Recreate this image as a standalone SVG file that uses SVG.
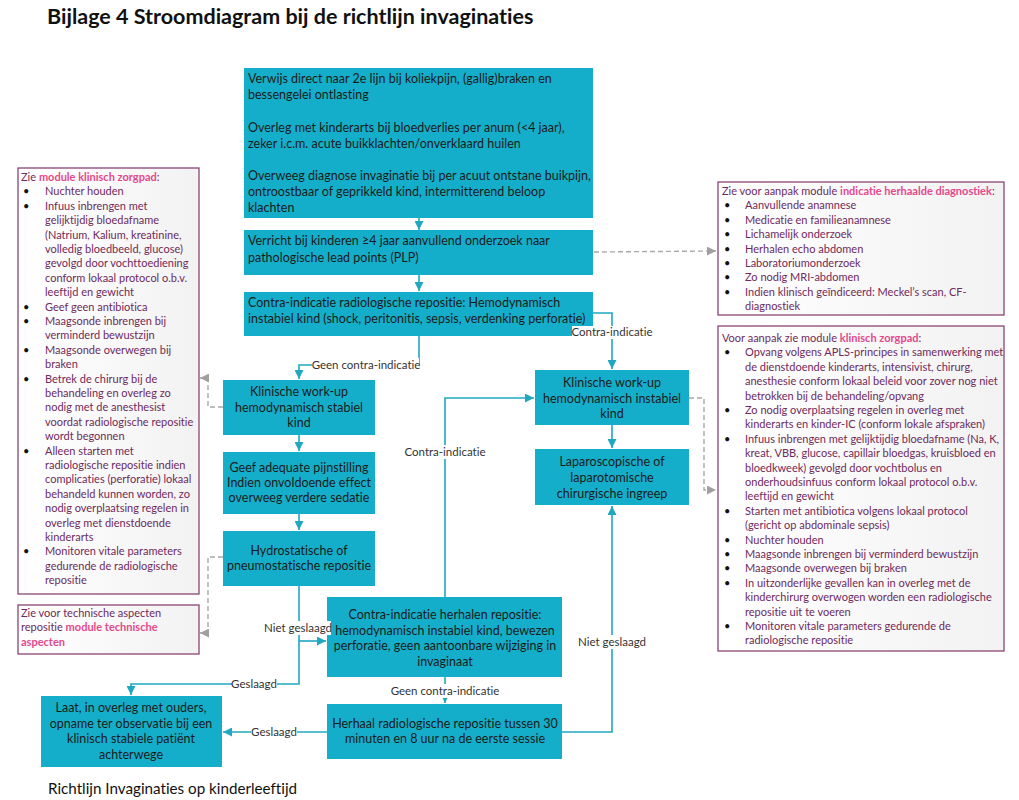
<svg xmlns="http://www.w3.org/2000/svg" width="1019" height="800" viewBox="0 0 1019 800">
<defs>
<style>
text{font-family:Lato,"Liberation Sans",sans-serif;font-variant-ligatures:none;font-feature-settings:"liga" 0}
.title{font-size:21.5px;font-weight:bold;fill:#111}
.foot{font-size:15.2px;fill:#111}
.box{fill:#14AECA}
.bt{font-size:12.5px;fill:#1b1b1b}
.c{text-anchor:middle}
.note{fill:url(#ng);stroke:#8a4577;stroke-width:1.3}
.nt{font-size:11px;fill:#6e2a5c}
.bul{font-size:11px;fill:#111}
.hl{fill:#e5488c;font-weight:bold}
.lbl{font-size:11.5px;fill:#333;text-anchor:middle}
.lb{fill:#fff}
.conn{stroke:#20A8C1;stroke-width:1.6;fill:none}
.dash{stroke:#a8a8a8;stroke-width:1.4;stroke-dasharray:5 3;fill:none}
</style>
<linearGradient id="ng" x1="0" y1="0" x2="1" y2="0">
<stop offset="0" stop-color="#ffffff"/>
<stop offset="1" stop-color="#f2f2f2"/>
</linearGradient>
<marker id="at" viewBox="0 0 10 10" refX="10" refY="5" markerWidth="9" markerHeight="9" markerUnits="userSpaceOnUse" orient="auto"><path d="M0,0 L10,5 L0,10 z" fill="#20A8C1"/></marker>
<marker id="ag" viewBox="0 0 10 10" refX="10" refY="5" markerWidth="9" markerHeight="9" markerUnits="userSpaceOnUse" orient="auto"><path d="M0,0 L10,5 L0,10 z" fill="#a0a0a0"/></marker>
</defs>
<rect width="1019" height="800" fill="#fff"/>
<text class="title" x="47" y="24">Bijlage 4 Stroomdiagram bij de richtlijn invaginaties</text>
<text class="foot" x="48" y="794">Richtlijn Invaginaties op kinderleeftijd</text>

<g id="n1">
<rect class="box" x="244" y="68" width="349" height="150"/>
<text class="bt" x="248" y="83">Verwijs direct naar 2e lijn bij koliekpijn, (gallig)braken en</text>
<text class="bt" x="248" y="99">bessengelei ontlasting</text>
<text class="bt" x="248" y="132">Overleg met kinderarts bij bloedverlies per anum (&lt;4 jaar),</text>
<text class="bt" x="248" y="148">zeker i.c.m. acute buikklachten/onverklaard huilen</text>
<text class="bt" x="248" y="180">Overweeg diagnose invaginatie bij per acuut ontstane buikpijn,</text>
<text class="bt" x="248" y="196">ontroostbaar of geprikkeld kind, intermitterend beloop</text>
<text class="bt" x="248" y="212">klachten</text>
</g>
<g id="n2">
<rect class="box" x="244" y="230" width="349" height="45"/>
<text class="bt" x="248" y="245">Verricht bij kinderen ≥4 jaar aanvullend onderzoek naar</text>
<text class="bt" x="248" y="262">pathologische lead points (PLP)</text>
</g>
<g id="n3">
<rect class="box" x="244" y="292" width="349" height="44"/>
<text class="bt" x="248" y="307">Contra-indicatie radiologische repositie: Hemodynamisch</text>
<text class="bt" x="248" y="323">instabiel kind (shock, peritonitis, sepsis, verdenking perforatie)</text>
</g>
<g id="n4">
<rect class="box" x="223" y="380" width="152" height="55"/>
<text class="bt c" x="299" y="395.5">Klinische work-up</text>
<text class="bt c" x="299" y="411.5">hemodynamisch stabiel</text>
<text class="bt c" x="299" y="427">kind</text>
</g>
<g id="n5">
<rect class="box" x="223" y="452" width="152" height="62"/>
<text class="bt c" x="299" y="471.5">Geef adequate pijnstilling</text>
<text class="bt c" x="299" y="486.5">Indien onvoldoende effect</text>
<text class="bt c" x="299" y="501.5">overweeg verdere sedatie</text>
</g>
<g id="n6">
<rect class="box" x="223" y="531" width="152" height="55"/>
<text class="bt c" x="299" y="554.5">Hydrostatische of</text>
<text class="bt c" x="299" y="569.5">pneumostatische repositie</text>
</g>
<g id="n7">
<rect class="box" x="535" y="370" width="154" height="55"/>
<text class="bt c" x="612" y="386.5">Klinische work-up</text>
<text class="bt c" x="612" y="402.5">hemodynamisch instabiel</text>
<text class="bt c" x="612" y="418">kind</text>
</g>
<g id="n8">
<rect class="box" x="535" y="449" width="154" height="56"/>
<text class="bt c" x="612" y="465.5">Laparoscopische of</text>
<text class="bt c" x="612" y="481.5">laparotomische</text>
<text class="bt c" x="612" y="497.5">chirurgische ingreep</text>
</g>
<g id="n9">
<rect class="box" x="327" y="597" width="235" height="80"/>
<text class="bt c" x="445" y="618.5">Contra-indicatie herhalen repositie:</text>
<text class="bt c" x="445" y="634.5">hemodynamisch instabiel kind, bewezen</text>
<text class="bt c" x="445" y="650">perforatie, geen aantoonbare wijziging in</text>
<text class="bt c" x="445" y="666">invaginaat</text>
</g>
<g id="n10">
<rect class="box" x="327" y="704" width="235" height="55"/>
<text class="bt c" x="445" y="727.5">Herhaal radiologische repositie tussen 30</text>
<text class="bt c" x="445" y="743">minuten en 8 uur na de eerste sessie</text>
</g>
<g id="n11">
<rect class="box" x="41" y="696" width="181" height="71"/>
<text class="bt c" x="131" y="712">Laat, in overleg met ouders,</text>
<text class="bt c" x="131" y="727.5">opname ter observatie bij een</text>
<text class="bt c" x="131" y="743">klinisch stabiele patiënt</text>
<text class="bt c" x="131" y="758.5">achterwege</text>
</g>

<g id="note-left-1">
<rect class="note" x="18" y="168" width="181" height="426"/>
<text class="nt" x="21" y="181">Zie <tspan class="hl">module klinisch zorgpad</tspan>:</text>
<text class="bul">
<tspan x="23" y="195.4">•</tspan><tspan x="23" y="209.8">•</tspan><tspan x="23" y="310.6">•</tspan><tspan x="23" y="325">•</tspan><tspan x="23" y="353.8">•</tspan><tspan x="23" y="382.6">•</tspan><tspan x="23" y="454.6">•</tspan><tspan x="23" y="555.4">•</tspan>
</text>
<text class="nt">
<tspan x="45" y="195.4">Nuchter houden</tspan>
<tspan x="45" dy="14.4">Infuus inbrengen met</tspan>
<tspan x="45" dy="14.4">gelijktijdig bloedafname</tspan>
<tspan x="45" dy="14.4">(Natrium, Kalium, kreatinine,</tspan>
<tspan x="45" dy="14.4">volledig bloedbeeld, glucose)</tspan>
<tspan x="45" dy="14.4">gevolgd door vochttoediening</tspan>
<tspan x="45" dy="14.4">conform lokaal protocol o.b.v.</tspan>
<tspan x="45" dy="14.4">leeftijd en gewicht</tspan>
<tspan x="45" dy="14.4">Geef geen antibiotica</tspan>
<tspan x="45" dy="14.4">Maagsonde inbrengen bij</tspan>
<tspan x="45" dy="14.4">verminderd bewustzijn</tspan>
<tspan x="45" dy="14.4">Maagsonde overwegen bij</tspan>
<tspan x="45" dy="14.4">braken</tspan>
<tspan x="45" dy="14.4">Betrek de chirurg bij de</tspan>
<tspan x="45" dy="14.4">behandeling en overleg zo</tspan>
<tspan x="45" dy="14.4">nodig met de anesthesist</tspan>
<tspan x="45" dy="14.4">voordat radiologische repositie</tspan>
<tspan x="45" dy="14.4">wordt begonnen</tspan>
<tspan x="45" dy="14.4">Alleen starten met</tspan>
<tspan x="45" dy="14.4">radiologische repositie indien</tspan>
<tspan x="45" dy="14.4">complicaties (perforatie) lokaal</tspan>
<tspan x="45" dy="14.4">behandeld kunnen worden, zo</tspan>
<tspan x="45" dy="14.4">nodig overplaatsing regelen in</tspan>
<tspan x="45" dy="14.4">overleg met dienstdoende</tspan>
<tspan x="45" dy="14.4">kinderarts</tspan>
<tspan x="45" dy="14.4">Monitoren vitale parameters</tspan>
<tspan x="45" dy="14.4">gedurende de radiologische</tspan>
<tspan x="45" dy="14.4">repositie</tspan>
</text>
</g>
<g id="note-left-2">
<rect class="note" x="18" y="605" width="181" height="49"/>
<text class="nt">
<tspan x="21" y="617">Zie voor technische aspecten</tspan>
<tspan x="21" dy="14.4">repositie <tspan class="hl">module technische</tspan></tspan>
<tspan x="21" dy="14.4" class="hl">aspecten</tspan>
</text>
</g>
<g id="note-right-1">
<rect class="note" x="718" y="182" width="286" height="133"/>
<text class="nt" x="722" y="195">Zie voor aanpak module <tspan class="hl">indicatie herhaalde diagnostiek</tspan>:</text>
<text class="bul">
<tspan x="724" y="209.4">•</tspan><tspan x="724" y="223.8">•</tspan><tspan x="724" y="238.2">•</tspan><tspan x="724" y="252.6">•</tspan><tspan x="724" y="267">•</tspan><tspan x="724" y="281.4">•</tspan><tspan x="724" y="295.8">•</tspan>
</text>
<text class="nt">
<tspan x="745" y="209.4">Aanvullende anamnese</tspan>
<tspan x="745" dy="14.4">Medicatie en familieanamnese</tspan>
<tspan x="745" dy="14.4">Lichamelijk onderzoek</tspan>
<tspan x="745" dy="14.4">Herhalen echo abdomen</tspan>
<tspan x="745" dy="14.4">Laboratoriumonderzoek</tspan>
<tspan x="745" dy="14.4">Zo nodig MRI-abdomen</tspan>
<tspan x="745" dy="14.4">Indien klinisch geïndiceerd: Meckel’s scan, CF-</tspan>
<tspan x="745" dy="14.4">diagnostiek</tspan>
</text>
</g>
<g id="note-right-2">
<rect class="note" x="718" y="326" width="286" height="325"/>
<text class="nt" x="722" y="342">Voor aanpak zie module <tspan class="hl">klinisch zorgpad</tspan>:</text>
<text class="bul">
<tspan x="724" y="356.4">•</tspan><tspan x="724" y="414">•</tspan><tspan x="724" y="442.8">•</tspan><tspan x="724" y="514.8">•</tspan><tspan x="724" y="543.6">•</tspan><tspan x="724" y="558">•</tspan><tspan x="724" y="572.4">•</tspan><tspan x="724" y="586.8">•</tspan><tspan x="724" y="630">•</tspan>
</text>
<text class="nt">
<tspan x="745" y="356.4">Opvang volgens APLS-principes in samenwerking met</tspan>
<tspan x="745" dy="14.4">de dienstdoende kinderarts, intensivist, chirurg,</tspan>
<tspan x="745" dy="14.4">anesthesie conform lokaal beleid voor zover nog niet</tspan>
<tspan x="745" dy="14.4">betrokken bij de behandeling/opvang</tspan>
<tspan x="745" dy="14.4">Zo nodig overplaatsing regelen in overleg met</tspan>
<tspan x="745" dy="14.4">kinderarts en kinder-IC (conform lokale afspraken)</tspan>
<tspan x="745" dy="14.4">Infuus inbrengen met gelijktijdig bloedafname (Na, K,</tspan>
<tspan x="745" dy="14.4">kreat, VBB, glucose, capillair bloedgas, kruisbloed en</tspan>
<tspan x="745" dy="14.4">bloedkweek) gevolgd door vochtbolus en</tspan>
<tspan x="745" dy="14.4">onderhoudsinfuus conform lokaal protocol o.b.v.</tspan>
<tspan x="745" dy="14.4">leeftijd en gewicht</tspan>
<tspan x="745" dy="14.4">Starten met antibiotica volgens lokaal protocol</tspan>
<tspan x="745" dy="14.4">(gericht op abdominale sepsis)</tspan>
<tspan x="745" dy="14.4">Nuchter houden</tspan>
<tspan x="745" dy="14.4">Maagsonde inbrengen bij verminderd bewustzijn</tspan>
<tspan x="745" dy="14.4">Maagsonde overwegen bij braken</tspan>
<tspan x="745" dy="14.4">In uitzonderlijke gevallen kan in overleg met de</tspan>
<tspan x="745" dy="14.4">kinderchirurg overwogen worden een radiologische</tspan>
<tspan x="745" dy="14.4">repositie uit te voeren</tspan>
<tspan x="745" dy="14.4">Monitoren vitale parameters gedurende de</tspan>
<tspan x="745" dy="14.4">radiologische repositie</tspan>
</text>
</g>

<g id="connectors">
<line class="conn" x1="419" y1="218" x2="419" y2="230" marker-end="url(#at)"/>
<line class="conn" x1="419" y1="275" x2="419" y2="291" marker-end="url(#at)"/>
<polyline class="conn" points="593,313 612,313 612,369" marker-end="url(#at)"/>
<polyline class="conn" points="419,336 419,365 299,365 299,379" marker-end="url(#at)"/>
<line class="conn" x1="299" y1="435" x2="299" y2="451" marker-end="url(#at)"/>
<line class="conn" x1="299" y1="514" x2="299" y2="530" marker-end="url(#at)"/>
<polyline class="conn" points="299,586 299,684 131,684 131,695" marker-end="url(#at)"/>
<line class="conn" x1="299" y1="641" x2="326" y2="641" marker-end="url(#at)"/>
<polyline class="conn" points="445,597 445,398 534,398" marker-end="url(#at)"/>
<line class="conn" x1="612" y1="425" x2="612" y2="448" marker-end="url(#at)"/>
<line class="conn" x1="445" y1="677" x2="445" y2="703" marker-end="url(#at)"/>
<line class="conn" x1="327" y1="732" x2="223" y2="732" marker-end="url(#at)"/>
<polyline class="conn" points="562,732 612,732 612,506" marker-end="url(#at)"/>
<line class="dash" x1="594" y1="252" x2="716" y2="251" marker-end="url(#ag)"/>
<polyline class="dash" points="223,407 208,407 208,378 200,378" marker-end="url(#ag)"/>
<polyline class="dash" points="223,557 208,557 208,633 200,633" marker-end="url(#ag)"/>
<polyline class="dash" points="689,398 704,398 704,490 716,490" marker-end="url(#ag)"/>
<rect class="lb" x="572" y="326" width="80" height="13"/>
<text class="lbl" x="612" y="336">Contra-indicatie</text>
<rect class="lb" x="312" y="358" width="107" height="14"/>
<text class="lbl" x="366" y="369">Geen contra-indicatie</text>
<rect class="lb" x="405" y="445" width="80" height="14"/>
<text class="lbl" x="445" y="456">Contra-indicatie</text>
<rect class="lb" x="265" y="621" width="66" height="14"/>
<text class="lbl" x="298" y="632">Niet geslaagd</text>
<rect class="lb" x="232" y="677" width="45" height="14"/>
<text class="lbl" x="254" y="688">Geslaagd</text>
<rect class="lb" x="251" y="725" width="46" height="14"/>
<text class="lbl" x="274" y="736">Geslaagd</text>
<rect class="lb" x="579" y="635" width="66" height="14"/>
<text class="lbl" x="612" y="646">Niet geslaagd</text>
<rect class="lb" x="390" y="684" width="110" height="14"/>
<text class="lbl" x="445" y="695">Geen contra-indicatie</text>
</g>
</svg>
